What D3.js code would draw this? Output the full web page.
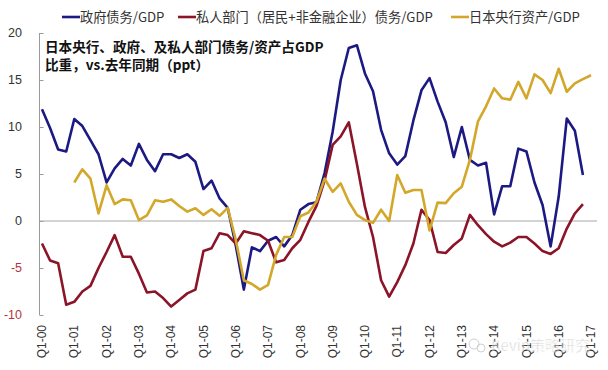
<!DOCTYPE html>
<html>
<head>
<meta charset="utf-8">
<script src="https://cdn.jsdelivr.net/npm/d3@7"></script>
<style>
  body { margin: 0; background: #fff; }
  svg { display: block; }
</style>
</head>
<body>
<div id="chart"></div>
<script>
// Quarterly data, Q1-00 .. Q1-17 (index 0 = Q1-00)
const tickLabels = ["Q1-00", "Q1-01", "Q1-02", "Q1-03", "Q1-04", "Q1-05", "Q1-06", "Q1-07", "Q1-08",
  "Q1-09", "Q1-10", "Q1-11", "Q1-12", "Q1-13", "Q1-14", "Q1-15", "Q1-16", "Q1-17"];
const yTicks = [-10, -5, 0, 5, 10, 15, 20];

const govDebt = [11.9, 9.9, 7.6, 7.4, 10.85, 10.1, 8.6, 7.1, 4.1, 5.6, 6.6, 5.9, 8.2, 6.5, 5.3, 7.1,
  7.1, 6.7, 7.1, 6.3, 3.4, 4.3, 2.4, 1.4, -2.6, -7.3, -2.8, -3.2, -2.1, -1.7, -2.7, -1.5,
  1.2, 1.8, 2.0, 5.1, 9.5, 15.0, 18.4, 18.7, 15.7, 13.8, 9.7, 7.2, 6.0, 6.9, 10.7, 13.9,
  15.2, 12.7, 10.5, 6.8, 10.0, 6.5, 5.9, 6.2, 0.7, 3.7, 3.7, 7.7, 7.4, 4.1, 1.7, -2.7,
  2.6, 10.9, 9.6, 4.9];

const privateDebt = [-2.4, -4.2, -4.5, -8.9, -8.6, -7.5, -6.9, -5.0, -3.3, -1.5, -3.8, -3.8, -5.6, -7.6, -7.5, -8.2,
  -9.1, -8.4, -7.7, -7.3, -3.2, -2.9, -1.3, -1.5, -2.4, -1.1, -1.3, -1.5, -2.1, -4.4, -4.15, -2.9,
  -2.0, -0.1, 1.6, 4.3, 8.1, 9.0, 10.5, 6.1, 1.5, -1.7, -6.3, -8.05, -6.5, -4.7, -2.4, 1.2,
  0.1, -3.3, -3.4, -2.55, -1.85, 0.65, -0.45, -1.4, -2.2, -2.7, -2.3, -1.7, -1.7, -2.4, -3.2, -3.5,
  -2.9, -0.8, 0.8, 1.8];

const bojAssets = [null, null, null, null, 4.1, 5.5, 4.5, 0.8, 3.8, 1.8, 2.3, 2.2, 0.1, 0.6, 2.2, 2.05,
  2.3, 1.6, 1.0, 1.35, 0.65, 1.25, 0.55, 1.4, -2.0, -6.3, -6.7, -7.3, -6.8, -3.6, -1.7, -1.7,
  0.5, 0.9, 2.05, 4.5, 3.1, 4.0, 2.05, 0.65, 0.1, -0.2, 1.2, 0.0, 4.9, 3.0, 3.3, 3.3,
  -1.0, 1.95, 1.9, 2.95, 3.65, 6.5, 10.6, 12.2, 14.1, 13.05, 12.9, 14.8, 13.05, 15.6, 15.0, 13.6,
  16.2, 13.75, 14.65, 15.1, 15.5];

const seriesNames = ["政府债务/GDP", "私人部门（居民+非金融企业）债务/GDP", "日本央行资产/GDP"];
const seriesColors = ["#1c1a82", "#8c1428", "#d3a72a"];
const titleLines = ["日本央行、政府、及私人部门债务/资产占GDP", "比重，vs.去年同期（ppt）"];

const width = 608;
const height = 370;

const svg = d3.select("#chart")
  .append("svg")
  .attr("width", width)
  .attr("height", height);

const x = d3.scaleLinear().domain([0, 68]).range([42, 591]);
const y = d3.scaleLinear().domain([-10, 20]).range([315, 33]);

// y axis (line + inward ticks)
const yAxis = d3.axisRight(y).tickValues(yTicks).tickSize(4).tickFormat("");
svg.append("g")
  .attr("transform", "translate(39.5,0)")
  .call(yAxis)
  .call((g) => g.select(".domain").attr("stroke", "#9a9a9a").attr("d", `M0,${y(20)}V${y(-10)}`))
  .call((g) => g.selectAll(".tick line").attr("stroke", "#9a9a9a"));

svg.append("g")
  .selectAll("text")
  .data(yTicks)
  .enter()
  .append("text")
  .attr("x", 22)
  .attr("y", (d) => y(d))
  .attr("dy", "0.35em")
  .attr("text-anchor", "end")
  .style("font-family", "'Liberation Sans', Arial, sans-serif")
  .style("font-size", "12.5px")
  .style("fill", (d) => (d < 0 ? "#b8323f" : "#333"))
  .text((d) => d);

// zero line
svg.append("line")
  .attr("x1", 39.5)
  .attr("x2", 597)
  .attr("y1", y(0))
  .attr("y2", y(0))
  .style("stroke", "#a8a8a8")
  .style("stroke-width", 1.2);

// x tick labels, rotated
svg.append("g")
  .selectAll("text")
  .data(tickLabels)
  .enter()
  .append("text")
  .attr("transform", (d, i) => `translate(${x(i * 4)},325) rotate(-90)`)
  .attr("dy", "0.35em")
  .attr("text-anchor", "end")
  .style("font-family", "'Liberation Sans', Arial, sans-serif")
  .style("font-size", "12px")
  .style("fill", "#333")
  .text((d) => d);

// lines
const line = d3.line()
  .defined((d) => d != null)
  .x((d, i) => x(i))
  .y((d) => y(d));

[govDebt, privateDebt, bojAssets].forEach((values, k) => {
  svg.append("path")
    .datum(values)
    .attr("d", line)
    .style("fill", "none")
    .style("stroke", seriesColors[k])
    .style("stroke-width", 2.6)
    .style("stroke-linejoin", "round");
});

// legend
const legendX = [62, 178, 451];
const legend = svg.append("g")
  .selectAll("g")
  .data(seriesNames)
  .enter()
  .append("g")
  .attr("transform", (d, i) => `translate(${legendX[i]},17)`);

legend.append("line")
  .attr("x1", 0)
  .attr("x2", 18)
  .style("stroke", (d, i) => seriesColors[i])
  .style("stroke-width", 2.6);

legend.append("text")
  .attr("x", 18)
  .attr("dy", "0.36em")
  .style("font-family", "'Noto Sans CJK SC', sans-serif")
  .style("font-size", "13.2px")
  .style("fill", "#333")
  .text((d) => d);

// title inside the plot
svg.append("g")
  .selectAll("text")
  .data(titleLines)
  .enter()
  .append("text")
  .attr("x", 45)
  .attr("y", (d, i) => 47 + i * 18)
  .attr("dy", "0.36em")
  .style("font-family", "'Noto Sans CJK SC', sans-serif")
  .style("font-weight", "bold")
  .style("font-size", "13.6px")
  .style("fill", "#111")
  .text((d) => d);

// watermark
const mark = svg.append("g").attr("opacity", 0.55);
mark.append("circle").attr("cx", 474).attr("cy", 344).attr("r", 5).style("fill", "none").style("stroke", "#aaa");
mark.append("circle").attr("cx", 481).attr("cy", 348).attr("r", 4).style("fill", "none").style("stroke", "#aaa");
mark.append("text")
  .attr("x", 491)
  .attr("y", 346)
  .attr("dy", "0.35em")
  .style("font-family", "'Noto Sans CJK SC', sans-serif")
  .style("font-size", "15px")
  .style("fill", "#999")
  .style("stroke", "#fff")
  .style("stroke-width", 0.6)
  .text("Kevin策略研究");
</script>
</body>
</html>
